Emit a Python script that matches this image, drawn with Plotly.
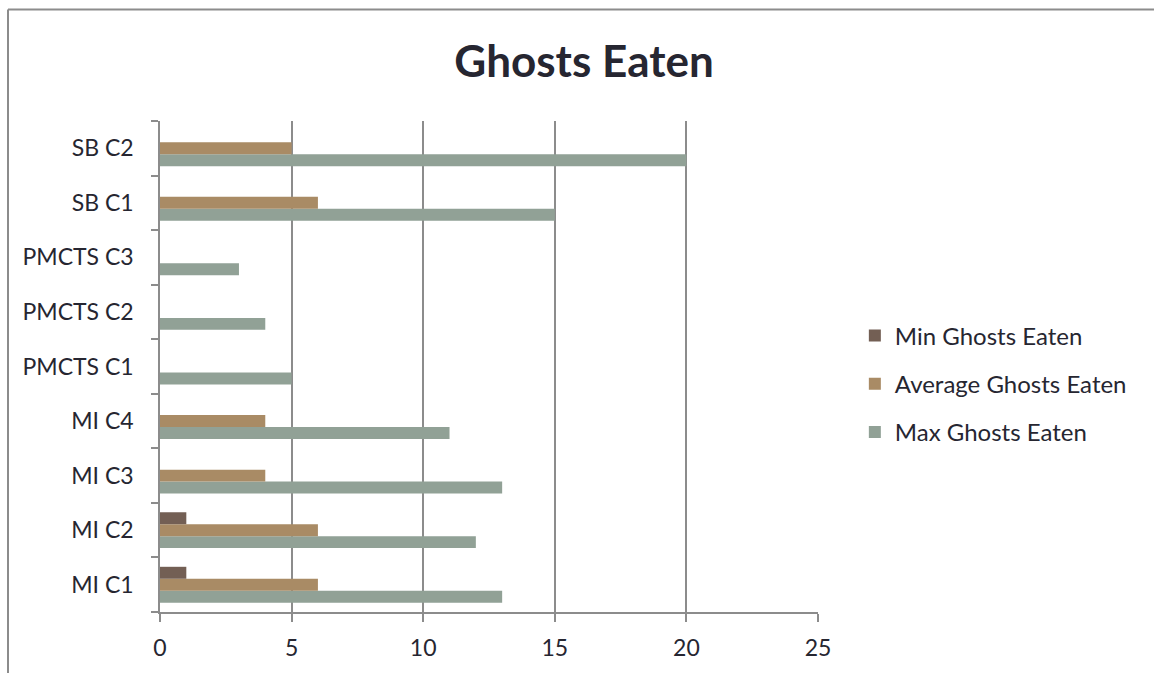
import plotly.graph_objects as go

categories = ["MI C1", "MI C2", "MI C3", "MI C4", "PMCTS C1", "PMCTS C2", "PMCTS C3", "SB C1", "SB C2"]
min_eaten = [1, 1, 0, 0, 0, 0, 0, 0, 0]
avg_eaten = [6, 6, 4, 4, 0, 0, 0, 6, 5]
max_eaten = [13, 12, 13, 11, 5, 4, 3, 15, 20]
x_ticks = [0, 5, 10, 15, 20, 25]

FONT = "Lato"
TXT = "#262631"
GRID = "#8c8c8c"

fig = go.Figure()
series = [
    ("Max Ghosts Eaten", max_eaten, "#91a196", 3),
    ("Average Ghosts Eaten", avg_eaten, "#a98b65", 2),
    ("Min Ghosts Eaten", min_eaten, "#735f54", 1),
]
for name, vals, col, rank in series:
    fig.add_trace(go.Bar(
        y=categories, x=vals, name=name, orientation="h",
        marker=dict(color=col, line=dict(width=0)),
        legendgroup=name, legendrank=rank,
    ))

fig.update_layout(
    width=1154, height=673,
    margin=dict(l=160, r=336, t=121, b=59),
    paper_bgcolor="white", plot_bgcolor="white",
    barmode="group", bargap=0.343, bargroupgap=0,
    font=dict(family=FONT, color=TXT, size=23),
    title=dict(text="<b>Ghosts Eaten</b>", x=(584/1154), xanchor="center",
               y=1 - 62/673, yanchor="middle", yref="container",
               font=dict(family=FONT, size=44, color=TXT)),
    legend=dict(x=1.056, xanchor="left", y=0.4645, yanchor="middle",
                traceorder="grouped", tracegroupgap=14,
                font=dict(family=FONT, size=24, color=TXT)),
    xaxis=dict(range=[0, 25], tickvals=x_ticks, showgrid=True, gridcolor=GRID, gridwidth=1.5,
               showline=True, linecolor=GRID, linewidth=1.5, ticks="outside", ticklen=8,
               tickcolor=GRID, tickwidth=1.5, zeroline=False, ticklabelstandoff=7,
               tickfont=dict(size=23, color=TXT, family=FONT), fixedrange=True),
    yaxis=dict(showgrid=False, showline=True, linecolor=GRID, linewidth=1.5, ticks="outside",
               ticklen=7, tickcolor=GRID, tickwidth=1.5, tickson="boundaries",
               ticklabelstandoff=20,
               tickfont=dict(size=23, color=TXT, family=FONT)),
    showlegend=True,
)

# outer chart frame (left and top edges visible)
fig.add_shape(type="line", xref="paper", yref="paper",
              x0=(8-160)/658, x1=(8-160)/658, y0=(614-9)/493, y1=(614-680)/493,
              line=dict(color="#8c8c8c", width=2))
fig.add_shape(type="line", xref="paper", yref="paper",
              x0=(8-160)/658, x1=(1160-160)/658, y0=(614-9)/493, y1=(614-9)/493,
              line=dict(color="#8c8c8c", width=2))

fig.write_html("out.html")
